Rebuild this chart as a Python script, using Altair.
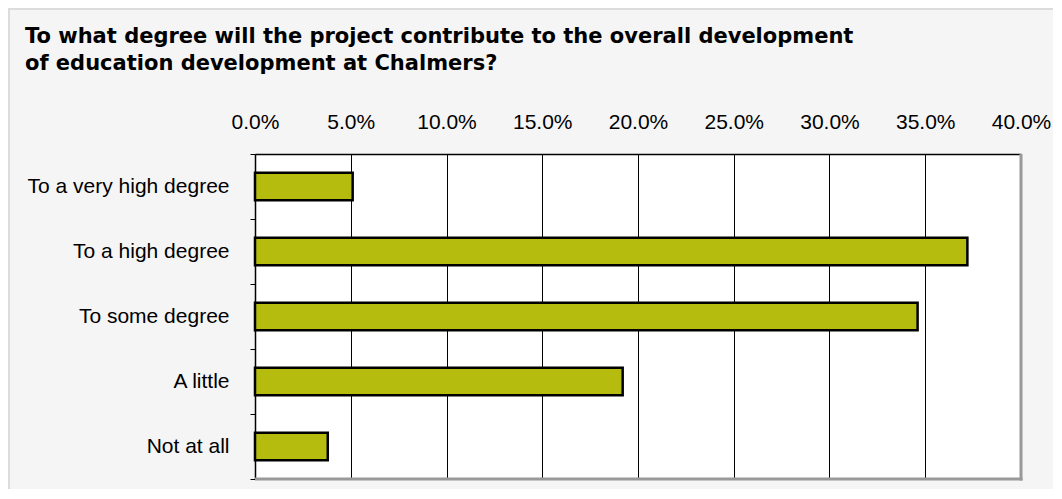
import altair as alt
import pandas as pd

categories = ["To a very high degree", "To a high degree", "To some degree", "A little", "Not at all"]
values = [0.051, 0.372, 0.346, 0.192, 0.038]
x_ticks = [0.0, 0.05, 0.10, 0.15, 0.20, 0.25, 0.30, 0.35, 0.40]
title_lines = [
    "To what degree will the project contribute to the overall development",
    "of education development at Chalmers?",
]

df = pd.DataFrame({"category": categories, "share": values})
one = pd.DataFrame({"k": [0]})

W, H = 766, 325
PAD_L, PAD_T = 247, 146

bars = alt.Chart(df).mark_bar(
    color="#b5bc0e", stroke="black", strokeWidth=2.5, height=alt.RelativeBandSize(0.42)
).encode(
    x=alt.X(
        "share:Q",
        scale=alt.Scale(domain=[0, 0.4], nice=False),
        axis=alt.Axis(
            orient="top", format=".1%", values=x_ticks, title=None,
            grid=True, gridColor="black", gridOpacity=1, gridWidth=1,
            domainColor="black", domainWidth=1.5, tickSize=0,
            labelFont="Liberation Sans", labelFontSize=21, labelColor="black",
            labelPadding=22, labelFlush=False, labelOverlap=False,
        ),
    ),
    y=alt.Y(
        "category:N", sort=categories,
        scale=alt.Scale(paddingInner=0, paddingOuter=0),
        axis=alt.Axis(
            title=None, tickBand="extent", tickSize=5, tickColor="black",
            domainColor="black", domainWidth=1.5,
            labelFont="Liberation Sans", labelFontSize=21, labelColor="black",
            labelPadding=21, labelLimit=400,
        ),
    ),
)

right_border = alt.Chart(one).mark_rule(color="#999999", strokeWidth=3, clip=False).encode(
    x=alt.value(W), y=alt.value(0), y2=alt.value(H + 1.5)
)
bottom_border = alt.Chart(one).mark_rule(color="#999999", strokeWidth=3, clip=False).encode(
    x=alt.value(0), x2=alt.value(W + 1.5), y=alt.value(H)
)
frame_top = alt.Chart(one).mark_rule(color="#dcdcdc", strokeWidth=2, clip=False).encode(
    x=alt.value(-PAD_L), x2=alt.value(W + 32), y=alt.value(-PAD_T + 1)
)
frame_left = alt.Chart(one).mark_rule(color="#dcdcdc", strokeWidth=2, clip=False).encode(
    x=alt.value(-PAD_L + 1), y=alt.value(-PAD_T), y2=alt.value(H + 10)
)

chart = alt.layer(frame_top, frame_left, bars, right_border, bottom_border).properties(
    width=W, height=H,
    title=alt.TitleParams(
        text=title_lines, anchor="start", frame="group",
        font="DejaVu Sans", fontSize=21, fontWeight="bold", color="black",
        dx=-230, dy=67, lineHeight=27, offset=0,
    ),
    autosize=alt.AutoSizeParams(type="none"),
    padding={"left": PAD_L, "top": PAD_T, "right": 32, "bottom": 10},
    background="#f5f5f5",
).configure_view(fill="white", stroke=None)

chart.save("out.html", embed_options={"renderer": "svg", "actions": False})
